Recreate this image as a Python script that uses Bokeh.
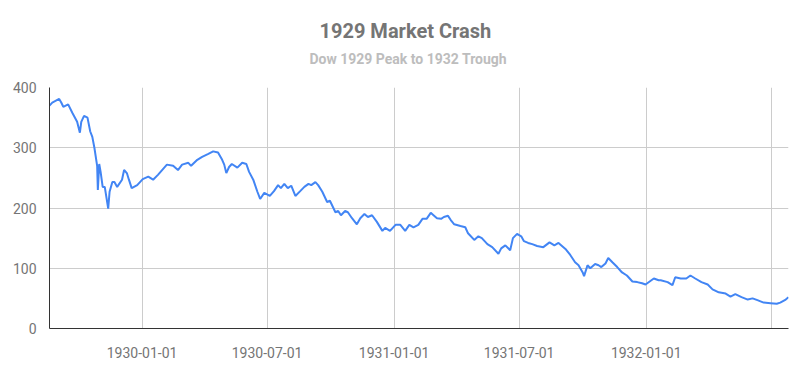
import pandas as pd
from bokeh.plotting import figure
from bokeh.models import FixedTicker, Title, DatetimeTickFormatter, Range1d
from bokeh.embed import file_html
from bokeh.resources import INLINE

title_text = "1929 Market Crash"
subtitle_text = "Dow 1929 Peak to 1932 Trough"

dates = [
    "1929-08-20", "1929-08-24", "1929-09-03", "1929-09-06", "1929-09-09", "1929-09-16",
    "1929-09-22", "1929-09-29", "1929-10-03", "1929-10-05", "1929-10-09", "1929-10-14",
    "1929-10-18", "1929-10-21", "1929-10-24", "1929-10-28", "1929-10-29", "1929-10-31",
    "1929-11-02", "1929-11-05", "1929-11-08", "1929-11-13", "1929-11-15", "1929-11-19",
    "1929-11-22", "1929-11-26", "1929-12-03", "1929-12-06", "1929-12-10", "1929-12-13",
    "1929-12-17", "1929-12-25", "1930-01-02", "1930-01-10", "1930-01-17", "1930-01-24",
    "1930-01-30", "1930-02-06", "1930-02-15", "1930-02-22", "1930-02-28", "1930-03-09",
    "1930-03-13", "1930-03-22", "1930-03-29", "1930-04-07", "1930-04-14", "1930-04-21",
    "1930-04-27", "1930-04-30", "1930-05-03", "1930-05-07", "1930-05-11", "1930-05-19",
    "1930-05-26", "1930-06-01", "1930-06-05", "1930-06-11", "1930-06-17", "1930-06-21",
    "1930-06-27", "1930-07-05", "1930-07-11", "1930-07-17", "1930-07-21", "1930-07-26",
    "1930-07-31", "1930-08-05", "1930-08-11", "1930-08-18", "1930-08-24", "1930-08-30",
    "1930-09-03", "1930-09-09", "1930-09-13", "1930-09-19", "1930-09-26", "1930-09-30",
    "1930-10-08", "1930-10-12", "1930-10-16", "1930-10-22", "1930-10-26", "1930-11-01",
    "1930-11-08", "1930-11-13", "1930-11-19", "1930-11-24", "1930-11-30", "1930-12-07",
    "1930-12-15", "1930-12-19", "1930-12-26", "1931-01-03", "1931-01-10", "1931-01-17",
    "1931-01-23", "1931-01-29", "1931-02-05", "1931-02-11", "1931-02-17", "1931-02-23",
    "1931-02-27", "1931-03-04", "1931-03-10", "1931-03-14", "1931-03-20", "1931-03-24",
    "1931-03-29", "1931-04-07", "1931-04-14", "1931-04-18", "1931-04-27", "1931-05-03",
    "1931-05-08", "1931-05-16", "1931-05-23", "1931-06-01", "1931-06-05", "1931-06-11",
    "1931-06-18", "1931-06-22", "1931-06-28", "1931-07-04", "1931-07-08", "1931-07-14",
    "1931-07-20", "1931-07-27", "1931-08-05", "1931-08-14", "1931-08-21", "1931-08-27",
    "1931-09-06", "1931-09-13", "1931-09-20", "1931-09-25", "1931-10-01", "1931-10-03",
    "1931-10-08", "1931-10-12", "1931-10-19", "1931-10-24", "1931-10-28", "1931-11-03",
    "1931-11-07", "1931-11-13", "1931-11-20", "1931-11-27", "1931-12-04", "1931-12-12",
    "1931-12-19", "1931-12-26", "1931-12-31", "1932-01-06", "1932-01-12", "1932-01-19",
    "1932-01-22", "1932-02-01", "1932-02-08", "1932-02-12", "1932-02-20", "1932-02-28",
    "1932-03-05", "1932-03-12", "1932-03-21", "1932-03-30", "1932-04-06", "1932-04-15",
    "1932-04-25", "1932-05-02", "1932-05-09", "1932-05-18", "1932-05-27", "1932-06-03",
    "1932-06-10", "1932-06-19", "1932-06-29", "1932-07-08", "1932-07-13", "1932-07-21",
    "1932-07-25",
]

dow = [
    370, 375, 381, 375, 368, 372,
    358, 343, 325, 343, 353, 350,
    327, 318, 300, 270, 230, 273,
    260, 235, 235, 199, 227, 243,
    243, 235, 247, 263, 258, 247,
    233, 238, 248, 252, 247, 255,
    263, 272, 270, 263, 272, 275,
    270, 280, 285, 290, 294, 292,
    280, 272, 258, 268, 273, 267,
    275, 273, 260, 247, 227, 215,
    225, 220, 228, 238, 233, 240,
    233, 237, 220, 228, 235, 240,
    238, 243, 238, 227, 210, 212,
    193, 195, 188, 195, 193, 183,
    173, 183, 190, 185, 188, 177,
    162, 167, 162, 172, 172, 162,
    172, 168, 172, 182, 182, 192,
    188, 183, 182, 185, 187, 180,
    173, 170, 168, 158, 147, 153,
    150, 140, 135, 124, 133, 138,
    130, 150, 157, 153, 145, 142,
    140, 137, 135, 143, 138, 142,
    132, 122, 110, 105, 93, 87,
    105, 100, 107, 105, 102, 108,
    117, 110, 102, 93, 88, 78,
    77, 75, 73, 78, 83, 80,
    80, 77, 72, 85, 83, 83,
    88, 83, 77, 73, 65, 60,
    58, 53, 57, 52, 48, 50,
    47, 43, 42, 41, 43, 48,
    52,
]

x_start = "1929-08-20"
x_end = "1932-07-25"
x_tick_dates = ["1930-01-01", "1930-07-01", "1931-01-01", "1931-07-01", "1932-01-01"]
x_grid_dates = x_tick_dates + ["1932-07-01"]
y_ticks = [0, 100, 200, 300, 400]


def ms(d):
    return pd.Timestamp(d).value // 10**6


xs = pd.to_datetime(dates)

FONT = "Roboto"

p = figure(
    width=799, height=363, x_axis_type="datetime",
    output_backend="svg", toolbar_location=None, title=None,
    x_range=Range1d(pd.Timestamp(x_start), pd.Timestamp(x_end)),
    y_range=Range1d(0, 400),
    min_border_left=49, min_border_right=11, min_border_top=87, min_border_bottom=35,
)
p.outline_line_color = None
p.background_fill_color = "white"
p.border_fill_color = "white"

# titles stacked above the frame (first added = nearest to the frame)
spacer = Title(text=" ", text_font=FONT, text_font_size="1px", standoff=12)
p.add_layout(spacer, "above")
sub = Title(text=subtitle_text, align="left", text_font=FONT, text_font_size="14px",
            text_font_style="bold", text_color="#bdbdbd", offset=260, standoff=12)
p.add_layout(sub, "above")
main = Title(text=title_text, align="left", text_font=FONT, text_font_size="20px",
             text_font_style="bold", text_color="#757575", offset=270, standoff=0)
p.add_layout(main, "above")

p.line(xs, dow, line_color="#4285f4", line_width=2)

p.xaxis.ticker = FixedTicker(ticks=[ms(d) for d in x_tick_dates])
p.xaxis.formatter = DatetimeTickFormatter(days="%Y-%m-%d", months="%Y-%m-%d", years="%Y-%m-%d")
p.xgrid.ticker = FixedTicker(ticks=[ms(d) for d in x_grid_dates])
p.yaxis.ticker = FixedTicker(ticks=y_ticks)
p.ygrid.ticker = FixedTicker(ticks=y_ticks)

for ax in (p.xaxis, p.yaxis):
    ax.axis_line_color = "#333333"
    ax.axis_line_width = 1
    ax.major_tick_line_color = None
    ax.minor_tick_line_color = None
    ax.major_label_text_font = FONT
    ax.major_label_text_font_size = "14px"
    ax.major_label_text_color = "#757575"
p.yaxis.major_label_standoff = 7
p.xaxis.major_label_standoff = 12

p.xgrid.grid_line_color = "#cccccc"
p.ygrid.grid_line_color = "#cccccc"

open("out.html", "w").write(file_html(p, INLINE))
